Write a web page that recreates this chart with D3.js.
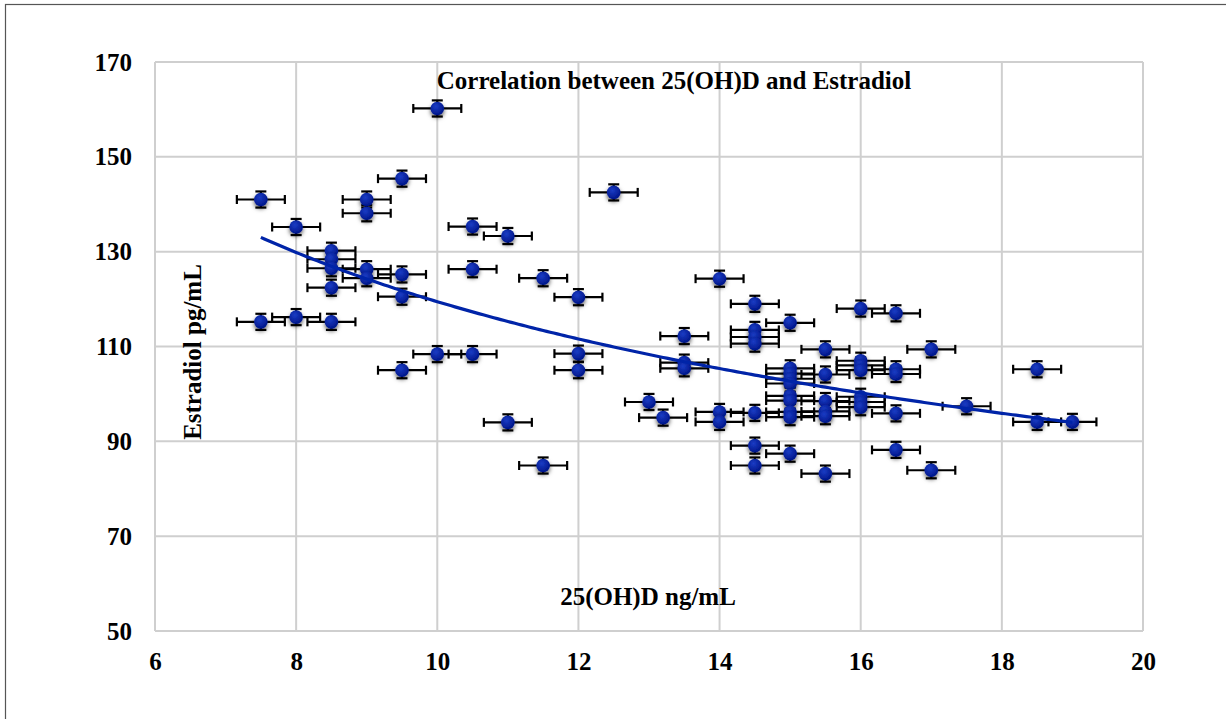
<!DOCTYPE html>
<html><head><meta charset="utf-8">
<script src="https://cdn.jsdelivr.net/npm/d3@7"></script>
<style>html,body{margin:0;padding:0;background:#fff;}svg{display:block;}</style>
</head><body>
<svg id="c" width="1226" height="719"></svg>
<script>
const xVals = [7.5,8,9.5,9,9,10.5,11,8.5,8.5,8.5,8.5,9,9,9.5,9.5,10.5,11.5,7.5,8,8.5,10,10.5,9.5,11,11.5,10,12.5,12,14,14.5,14.5,14.5,14.5,13.5,12,12,13.5,13.5,13,13.2,14,14,14.5,14.5,14.5,15,16,16.5,15.5,17,16,16,16,16.5,16.5,15,15,15,15,15.5,15,15,15,15,15.5,15.5,15.5,16,16,16,16.5,15,15.5,16.5,17,18.5,17.5,18.5,19];
const yVals = [141,135.2,145.4,141,138.1,135.3,133.3,130.2,128.4,126.5,122.4,126.3,124.4,125.2,120.5,126.3,124.4,115.2,116.2,115.2,108.4,108.4,105,94,84.9,160.2,142.5,120.4,124.3,119,113.5,112,110.6,112.2,108.5,105,106.6,105.4,98.3,95,96.2,94.1,96,89.1,84.9,115,118,117,109.4,109.4,107,106,105,105.2,104.2,105.4,104.3,103.2,102.2,104.1,99.6,98.6,96.2,95.1,98.5,96.3,95.3,99.4,98.3,97.2,95.9,87.4,83.2,88.2,83.9,105.2,97.4,94.1,94.1];
const xErr = 0.34, yErr = 1.7;
const xTicks = [6,8,10,12,14,16,18,20];
const yTicks = [50,70,90,110,130,150,170];
const trendA = 282.3, trendB = -0.3735, trendX = [7.5, 19];
const title = "Correlation between 25(OH)D and Estradiol";
const xLabel = "25(OH)D ng/mL", yLabel = "Estradiol pg/mL";

const svg = d3.select("#c");
const L=155,R=1143,T=62,B=631;
const x = d3.scaleLinear().domain([6,20]).range([L,R]);
const y = d3.scaleLinear().domain([50,170]).range([B,T]);
const font = "'Liberation Serif','Times New Roman',serif";
const fs = 25;

svg.append("rect").attr("x",5.5).attr("y",4.5).attr("width",1240).attr("height",740).attr("fill","none").attr("stroke","#555").attr("stroke-width",1.2);

const defs = svg.append("defs");
const g1 = defs.append("radialGradient").attr("id","mg").attr("cx","40%").attr("cy","35%").attr("r","65%");
g1.append("stop").attr("offset","0%").attr("stop-color","#1a3cc4");
g1.append("stop").attr("offset","100%").attr("stop-color","#00168a");
const f = defs.append("filter").attr("id","sh").attr("x","-60%").attr("y","-60%").attr("width","220%").attr("height","220%");
f.append("feDropShadow").attr("dx",0).attr("dy",2.5).attr("stdDeviation",2.2).attr("flood-color","#000").attr("flood-opacity",0.65);

// grid
const grid = svg.append("g").attr("stroke","#cfcfcf").attr("stroke-width",2);
xTicks.forEach(t=>grid.append("line").attr("x1",x(t)).attr("x2",x(t)).attr("y1",T).attr("y2",B));
yTicks.forEach(t=>grid.append("line").attr("x1",L).attr("x2",R).attr("y1",y(t)).attr("y2",y(t)));

// axes labels via d3 axes
const xa = svg.append("g").attr("transform",`translate(0,${B})`).call(d3.axisBottom(x).tickValues(xTicks).tickSize(0));
xa.selectAll("text").attr("dy",null).attr("y",39);
const ya = svg.append("g").attr("transform",`translate(${L},0)`).call(d3.axisLeft(y).tickValues(yTicks).tickSize(0).tickPadding(23));
ya.selectAll("text").attr("dy",null).attr("y",8);
[xa,ya].forEach(a=>{a.select(".domain").remove();a.selectAll("text").attr("font-family",font).attr("font-size",fs).attr("font-weight","bold").attr("fill","#000");});

// titles
svg.append("text").attr("x",674).attr("y",89).attr("text-anchor","middle").attr("font-family",font).attr("font-size",fs).attr("font-weight","bold").text(title);
svg.append("text").attr("x",648).attr("y",605).attr("text-anchor","middle").attr("font-family",font).attr("font-size",fs).attr("font-weight","bold").text(xLabel);
svg.append("text").attr("transform","translate(201,352) rotate(-90)").attr("text-anchor","middle").attr("font-family",font).attr("font-size",fs).attr("font-weight","bold").text(yLabel);

const pts = xVals.map((v,i)=>({x:v,y:yVals[i]}));
// error bars
const eb = svg.append("g").attr("stroke","#000").attr("stroke-width",2.2).attr("fill","none");
pts.forEach(p=>{
  const cx=x(p.x), cy=y(p.y), x0=x(p.x-xErr), x1=x(p.x+xErr), y0=y(p.y-yErr), y1=y(p.y+yErr);
  eb.append("line").attr("x1",x0).attr("x2",x1).attr("y1",cy).attr("y2",cy);
  eb.append("line").attr("x1",x0).attr("x2",x0).attr("y1",cy-4.5).attr("y2",cy+4.5);
  eb.append("line").attr("x1",x1).attr("x2",x1).attr("y1",cy-4.5).attr("y2",cy+4.5);
  eb.append("line").attr("x1",cx).attr("x2",cx).attr("y1",y0).attr("y2",y1);
  eb.append("line").attr("x1",cx-5.5).attr("x2",cx+5.5).attr("y1",y0).attr("y2",y0);
  eb.append("line").attr("x1",cx-5.5).attr("x2",cx+5.5).attr("y1",y1).attr("y2",y1);
});
// markers
svg.append("g").selectAll("circle").data(pts).join("circle")
  .attr("cx",d=>x(d.x)).attr("cy",d=>y(d.y)).attr("r",6.8)
  .attr("fill","url(#mg)").attr("filter","url(#sh)");

// trendline (power)
const tx = d3.range(trendX[0], trendX[1]+0.0001, 0.05);
const line = d3.line().x(d=>x(d)).y(d=>y(trendA*Math.pow(d,trendB)));
svg.append("path").attr("d",line(tx)).attr("fill","none").attr("stroke","#0024a8").attr("stroke-width",3.2);
</script>
</body></html>
